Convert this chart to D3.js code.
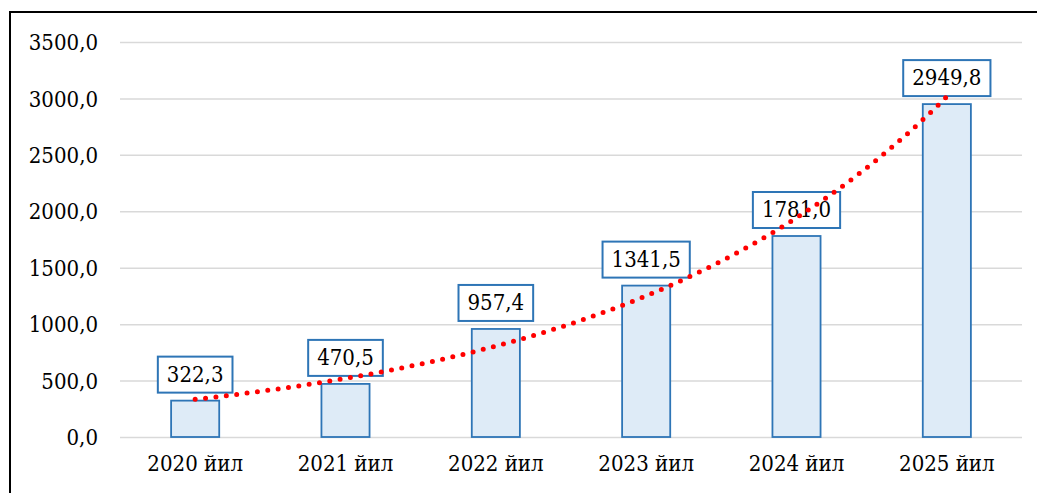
<!DOCTYPE html>
<html>
<head>
<meta charset="utf-8">
<script src="https://cdn.jsdelivr.net/npm/d3@7"></script>
<style>
  html, body { margin: 0; padding: 0; background: #fff; }
  svg text { font-family: "DejaVu Serif", serif; font-stretch: condensed; fill: #000; }
</style>
</head>
<body>
<div id="chart"></div>
<script>
// ---------------- data ----------------
var years = ["2020 йил", "2021 йил", "2022 йил", "2023 йил", "2024 йил", "2025 йил"];
var values = [322.3, 470.5, 957.4, 1341.5, 1781.0, 2949.8];
var yTicks = [0, 500, 1000, 1500, 2000, 2500, 3000, 3500];

var width = 1037, height = 493;
var margin = {left: 120, right: 15, top: 42, bottom: 56};

var svg = d3.select("#chart").append("svg")
    .attr("width", width)
    .attr("height", height);

// chart frame (left and top edges visible)
svg.append("path")
    .attr("d", "M10," + height + "V12H" + width)
    .attr("fill", "none")
    .attr("stroke", "#000")
    .attr("stroke-width", 2);

var fmt = function(v) { return d3.format(".1f")(v).replace(".", ","); };

// scales
var x = d3.scaleBand().domain(years).range([margin.left, width - margin.right]);
var y = d3.scaleLinear().domain([0, 3500]).range([height - margin.bottom, margin.top]);

// gridlines
svg.append("g")
    .attr("transform", "translate(" + margin.left + ",0)")
    .call(d3.axisLeft(y).tickValues(yTicks).tickSize(-(width - margin.left - margin.right)).tickFormat(""))
    .call(function(g) {
        g.select(".domain").remove();
        g.selectAll("line").attr("stroke", "#d9d9d9").attr("stroke-width", 1.5);
    });

// y labels
svg.append("g")
    .attr("transform", "translate(98,0)")
    .call(d3.axisLeft(y).tickValues(yTicks).tickSize(0).tickPadding(0).tickFormat(fmt))
    .call(function(g) {
        g.select(".domain").remove();
        g.selectAll("text").attr("font-size", 22).attr("dy", "0.35em");
    });

// x labels
svg.append("g")
    .attr("transform", "translate(0," + (height - margin.bottom) + ")")
    .call(d3.axisBottom(x).tickSize(0).tickPadding(0))
    .call(function(g) {
        g.select(".domain").remove();
        g.selectAll("text").attr("font-size", 22).attr("dy", "1.55em");
    });

// bars
var barW = x.bandwidth() * 0.32;
svg.append("g").selectAll("rect")
    .data(values)
    .enter()
    .append("rect")
    .attr("x", function(d, i) { return x(years[i]) + (x.bandwidth() - barW) / 2; })
    .attr("y", function(d) { return y(d); })
    .attr("width", barW)
    .attr("height", function(d) { return y(0) - y(d); })
    .attr("fill", "#deebf7")
    .attr("stroke", "#2e75b6")
    .attr("stroke-width", 1.8);

// exponential trendline (least squares on ln values)
var xs = values.map(function(d, i) { return i + 1; });
var ls = values.map(function(d) { return Math.log(d); });
var mx = d3.mean(xs), ml = d3.mean(ls);
var slope = d3.sum(xs, function(v, i) { return (v - mx) * (ls[i] - ml); }) /
            d3.sum(xs, function(v) { return (v - mx) * (v - mx); });
var icpt = ml - slope * mx;
var cx = function(t) { return x(years[0]) + x.bandwidth() / 2 + (t - 1) * x.step(); };
var trend = d3.range(1, 6.001, 0.05).map(function(t) { return [cx(t), y(Math.exp(icpt + slope * t))]; });

// data labels
var lab = svg.append("g").selectAll("g")
    .data(values)
    .enter()
    .append("g")
    .attr("transform", function(d, i) { return "translate(" + (x(years[i]) + x.bandwidth() / 2) + "," + (y(d) - 8) + ")"; });

lab.append("text")
    .attr("text-anchor", "middle")
    .attr("y", -11)
    .attr("font-size", 22)
    .text(fmt);

lab.each(function() {
    var g = d3.select(this);
    var b = g.select("text").node().getBBox();
    g.insert("rect", "text")
        .attr("x", b.x - 9)
        .attr("y", -36)
        .attr("width", b.width + 18)
        .attr("height", 36)
        .attr("fill", "#fff")
        .attr("stroke", "#2e75b6")
        .attr("stroke-width", 2);
});

svg.append("path")
    .datum(trend)
    .attr("d", d3.line())
    .attr("fill", "none")
    .attr("stroke", "#ff0000")
    .attr("stroke-width", 5)
    .attr("stroke-linecap", "round")
    .attr("stroke-dasharray", "0 10.45");
</script>
</body>
</html>
